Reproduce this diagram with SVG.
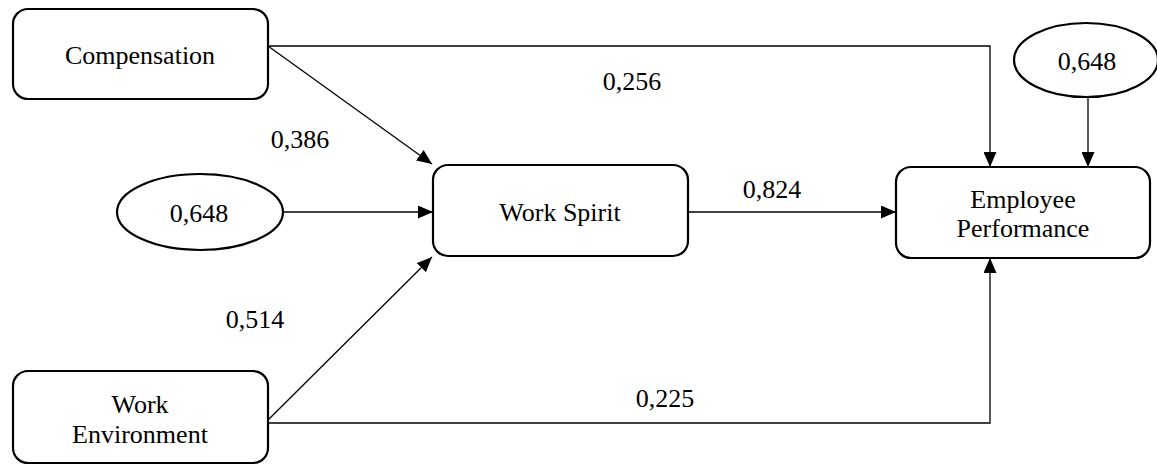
<svg xmlns="http://www.w3.org/2000/svg" width="1157" height="468" viewBox="0 0 1157 468">
<style>
.node{fill:#fff;stroke:#000;stroke-width:2.2}
text{font-family:'Liberation Serif','DejaVu Serif','Times New Roman',Times,serif;font-size:26px;fill:#000;text-anchor:middle}
.c{fill:none;stroke:#000;stroke-width:1.3}
</style>
<defs>
<marker id="ah" markerUnits="userSpaceOnUse" markerWidth="16" markerHeight="13" refX="15" refY="6.5" orient="auto">
<path d="M0,0 L15,6.5 L0,13 z" fill="#000"/>
</marker>
</defs>
<rect width="1157" height="468" fill="#fff"/>
<g id="connectors">
<line class="c" x1="268" y1="46" x2="432" y2="164" marker-end="url(#ah)"/>
<line class="c" x1="282" y1="212" x2="433" y2="212" marker-end="url(#ah)"/>
<line class="c" x1="268" y1="420" x2="432" y2="257" marker-end="url(#ah)"/>
<line class="c" x1="688" y1="212" x2="896" y2="212" marker-end="url(#ah)"/>
<polyline class="c" points="268,46 990,46 990,167" marker-end="url(#ah)"/>
<polyline class="c" points="268,423 990,423 990,258" marker-end="url(#ah)"/>
<line class="c" x1="1088" y1="98" x2="1088" y2="167" marker-end="url(#ah)"/>
</g>
<g id="labels">
<text x="632" y="90">0,256</text>
<text x="300" y="148">0,386</text>
<text x="772" y="198">0,824</text>
<text x="255" y="328">0,514</text>
<text x="665" y="407">0,225</text>
</g>
<g id="compensation">
<rect class="node" x="13" y="9" width="255" height="90" rx="15"/>
<text x="140" y="64">Compensation</text>
</g>
<g id="error-ws">
<ellipse class="node" cx="200" cy="212" rx="83" ry="38"/>
<text x="199" y="222">0,648</text>
</g>
<g id="work-spirit">
<rect class="node" x="433" y="165" width="255" height="91" rx="15"/>
<text x="560" y="221">Work Spirit</text>
</g>
<g id="error-ep">
<ellipse class="node" cx="1086" cy="60" rx="72" ry="37"/>
<text x="1087" y="70">0,648</text>
</g>
<g id="employee-performance">
<rect class="node" x="896" y="167" width="254" height="91" rx="15"/>
<text x="1023" y="208">Employee</text>
<text x="1023" y="237">Performance</text>
</g>
<g id="work-environment">
<rect class="node" x="13" y="371" width="255" height="92" rx="15"/>
<text x="140" y="413">Work</text>
<text x="140" y="443">Environment</text>
</g>
</svg>
